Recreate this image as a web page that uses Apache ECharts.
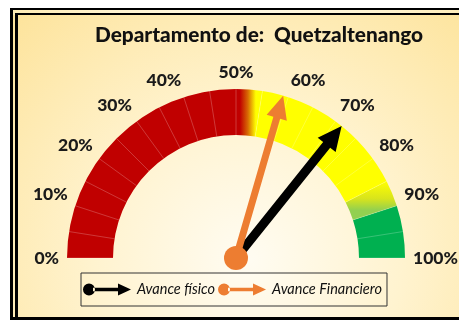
<!DOCTYPE html>
<html>
<head>
<meta charset="utf-8">
<script src="https://cdn.jsdelivr.net/npm/echarts@6/dist/echarts.min.js"></script>
<style>
  html, body { margin: 0; padding: 0; width: 459px; height: 320px; overflow: hidden; background: #ffffff; }
  #frame {
    position: absolute; left: 10px; top: 8px; width: 470px; height: 330px;
    border-left: 8px double #000; border-top: 7px double #000;
    background: radial-gradient(circle farthest-corner at 230px 245px, #fffcf2 0%, #fff3cf 45%, #fde39a 100%);
  }
  #bottomBar { position: absolute; left: 10px; top: 317px; width: 460px; height: 3px; background: #000; }
  #chart { position: absolute; left: 0; top: 0; width: 459px; height: 320px; }
</style>
</head>
<body>
<div id="frame"></div>
<div id="bottomBar"></div>
<div id="chart"></div>
<script>
// Gauge readings (percent)
const avanceFisico = 71.5;
const avanceFinanciero = 59;
const seriesNames = ['Avance físico', 'Avance Financiero'];
const seriesColors = ['#000000', '#ED7D31'];

// Band thresholds (fraction of the dial) and fills
const bandStops = [0.50, 0.55, 0.85, 0.90, 1.00];
const titleText = 'Departamento de:  Quetzaltenango';

// Tick labels every 10 %
const tickMin = 0, tickMax = 100, tickStep = 10;

const CX = 236, CY = 258, R = 169, BAND = 46;
const FONT = 'Lato, "Open Sans", sans-serif';

const redToYellow = new echarts.graphic.LinearGradient(0, 0, 1, 0, [
  { offset: 0, color: '#C00000' }, { offset: 0.15, color: '#C00000' },
  { offset: 0.45, color: '#D86A04' }, { offset: 0.75, color: '#FFFF00' }, { offset: 1, color: '#FFFF00' }
]);
const yellowToGreen = new echarts.graphic.LinearGradient(0, 0, 0, 1, [
  { offset: 0, color: '#FFFF00' }, { offset: 0.45, color: '#D8E41C' }, { offset: 0.75, color: '#92D050' }, { offset: 1, color: '#92D050' }
]);
const bandColors = ['#C00000', redToYellow, '#FFFF00', yellowToGreen, '#00B050'];

// Arrow-shaped needle: tip at the top of the box, base at the bottom
function arrowPath(shaft, head, headLen, len) {
  const c = head / 2, s = shaft / 2;
  return 'path://M' + c + ',0 L' + head + ',' + headLen + ' L' + (c + s) + ',' + headLen +
    ' L' + (c + s) + ',' + len + ' L' + (c - s) + ',' + len + ' L' + (c - s) + ',' + headLen +
    ' L0,' + headLen + ' Z';
}

const legendIcon = 'path://M6,1 A6,6 0 1 0 6,13 A6,6 0 1 0 6,1 Z M10,5.3 L35,5.3 L35,1 L48,7 L35,13 L35,8.7 L10,8.7 Z';

const common = {
  type: 'gauge',
  center: [CX, CY],
  radius: R,
  startAngle: 180,
  endAngle: 0,
  min: tickMin,
  max: tickMax,
  splitNumber: 20,
  axisTick: { show: false },
  axisLabel: { show: false },
  detail: { show: false },
  title: { show: false }
};

const chart = echarts.init(document.getElementById('chart'), null, { renderer: 'canvas' });
chart.setOption({
  backgroundColor: 'transparent',
  animation: false,
  title: {
    text: titleText,
    left: 95, top: 25, padding: 0,
    textStyle: { fontFamily: FONT, fontWeight: 900, fontSize: 20.8, color: '#111' }
  },
  legend: {
    left: 81, top: 273,
    orient: 'horizontal',
    itemWidth: 48, itemHeight: 14, itemGap: 3,
    padding: [9, 5, 9, 2],
    borderColor: '#333', borderWidth: 1,
    textStyle: { fontFamily: FONT, fontStyle: 'italic', fontSize: 14.5, color: '#111', padding: [0, 0, 0, 1] },
    data: seriesNames.map((n, i) => ({ name: n, icon: legendIcon, itemStyle: { color: seriesColors[i] } }))
  },
  polar: { center: [CX, CY], radius: R },
  angleAxis: {
    type: 'value', min: tickMin, max: tickMax, interval: tickStep,
    startAngle: 180, endAngle: 0, clockwise: true,
    axisLine: { show: false }, axisTick: { show: false }, splitLine: { show: false },
    axisLabel: {
      margin: 8, formatter: '{value}%', color: '#1a1a1a',
      fontFamily: FONT, fontWeight: 900, fontSize: 17.5
    }
  },
  radiusAxis: { show: false, min: 0, max: 1 },
  series: [
    Object.assign({}, common, {
      name: seriesNames[0],
      axisLine: {
        show: true,
        lineStyle: { width: BAND, color: bandStops.map((s, i) => [s, bandColors[i]]) }
      },
      splitLine: { show: true, length: BAND, distance: -BAND, lineStyle: { color: 'rgba(255,255,255,0.22)', width: 1 } },
      pointer: { show: true, icon: arrowPath(9, 23, 24, 169), length: '100%', width: 23, offsetCenter: [0, 0] },
      itemStyle: { color: seriesColors[0] },
      anchor: { show: false },
      data: [{ value: avanceFisico, name: seriesNames[0] }]
    }),
    Object.assign({}, common, {
      name: seriesNames[1],
      axisLine: { show: false },
      splitLine: { show: false },
      pointer: { show: true, icon: arrowPath(7, 21, 23, 169), length: '100%', width: 21, offsetCenter: [0, 0] },
      itemStyle: { color: seriesColors[1] },
      anchor: { show: true, showAbove: true, size: 24, itemStyle: { color: seriesColors[1] } },
      data: [{ value: avanceFinanciero, name: seriesNames[1] }]
    })
  ]
});
</script>
</body>
</html>
